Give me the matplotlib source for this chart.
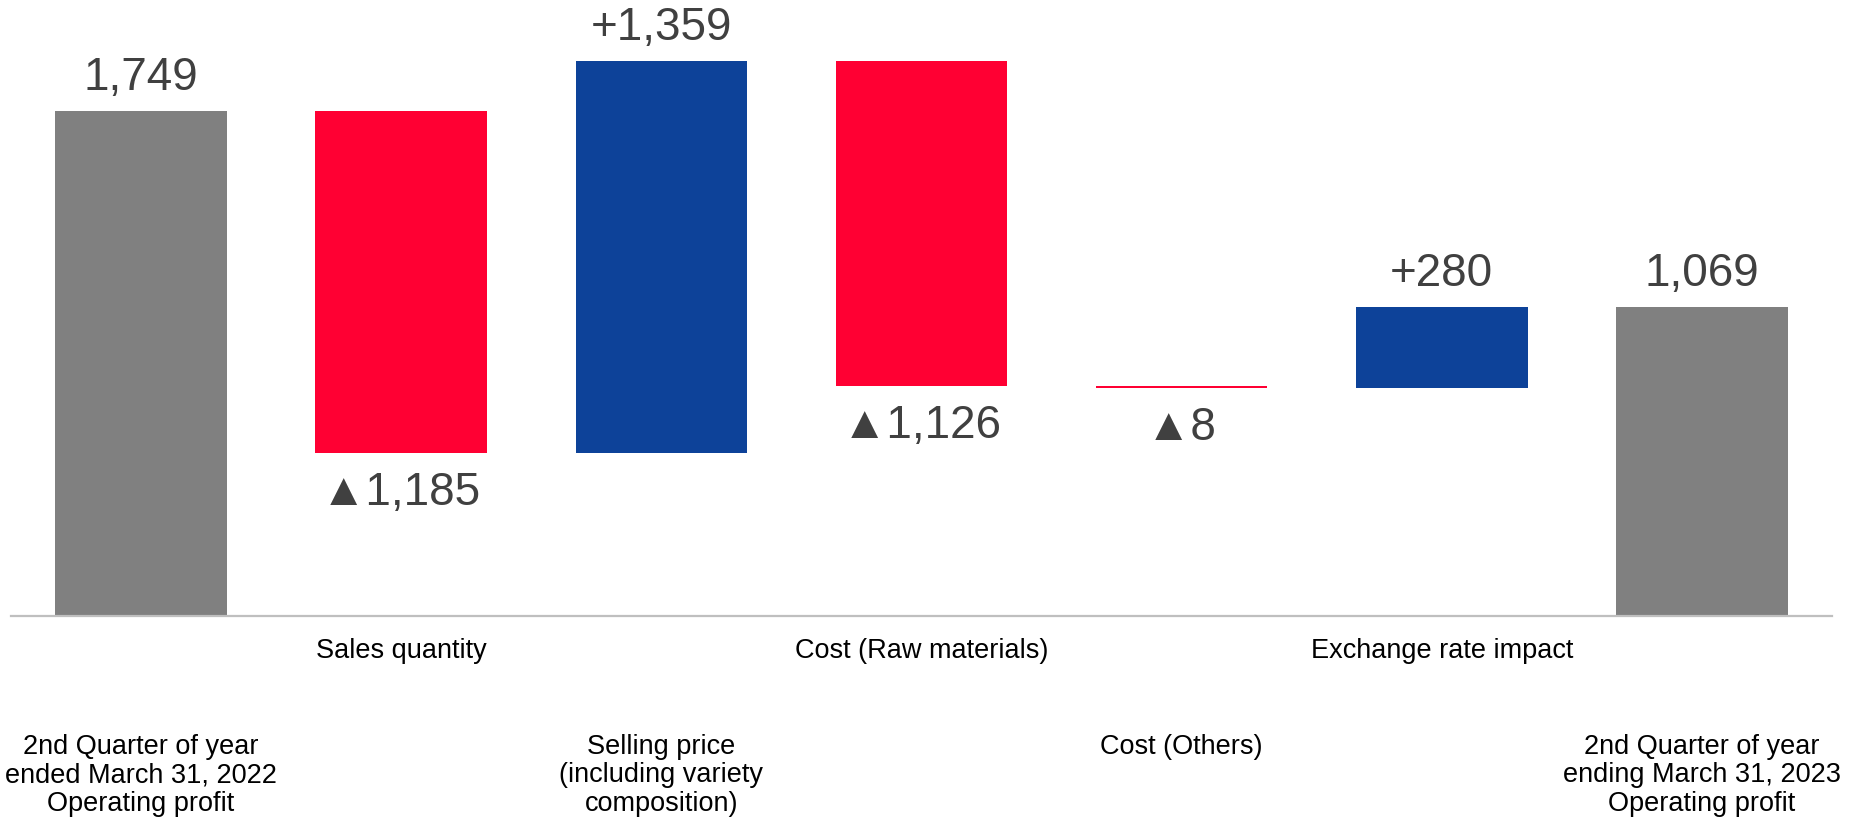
import numpy as np
import matplotlib.pyplot as plt
from matplotlib.transforms import blended_transform_factory

# Operating profit bridge, 2Q FY2022 -> 2Q FY2023
categories = [
    "2nd Quarter of year\nended March 31, 2022\nOperating profit",
    "Sales quantity",
    "Selling price\n(including variety\ncomposition)",
    "Cost (Raw materials)",
    "Cost (Others)",
    "Exchange rate impact",
    "2nd Quarter of year\nending March 31, 2023\nOperating profit",
]
start_total = 1749
deltas = [-1185, 1359, -1126, -8, 280]
end_total = 1069

GRAY = "#808080"
RED = "#FF0033"
BLUE = "#0D4299"
TEXT = "#404040"

# bottoms / heights of each floating bar
bottoms, heights, colors, labels = [0], [start_total], [GRAY], [f"{start_total:,}"]
level = start_total
for d in deltas:
    if d >= 0:
        bottoms.append(level)
        colors.append(BLUE)
        labels.append(f"+{d:,}")
    else:
        bottoms.append(level + d)
        colors.append(RED)
        labels.append(f"▲{-d:,}")
    heights.append(abs(d))
    level += d
bottoms.append(0)
heights.append(end_total)
colors.append(GRAY)
labels.append(f"{end_total:,}")

fig = plt.figure(figsize=(18.58, 8.21), dpi=100)
ax = fig.add_axes([11 / 1858, 205 / 821, 1821 / 1858, 616 / 821])

x = np.arange(len(categories))
ax.bar(x, heights, bottom=bottoms, width=0.66, color=colors, linewidth=0)

ax.set_xlim(-0.5, 6.5)
ax.set_ylim(0, 2133)
for s in ["top", "right", "left"]:
    ax.spines[s].set_visible(False)
ax.spines["bottom"].set_color("#BFBFBF")
ax.spines["bottom"].set_linewidth(1.6)
ax.set_xticks([])
ax.set_yticks([])

font = ["Liberation Sans", "DejaVu Sans"]

# value labels: above for totals and increases, below for decreases
for i in range(len(x)):
    if colors[i] == RED:
        ax.annotate(labels[i], (x[i], bottoms[i]), xytext=(0, -13),
                    textcoords="offset points", ha="center", va="top",
                    fontsize=33, color=TEXT, family=font)
    else:
        ax.annotate(labels[i], (x[i], bottoms[i] + heights[i]), xytext=(0, 8),
                    textcoords="offset points", ha="center", va="bottom",
                    fontsize=33, color=TEXT, family=font)

# category names in two staggered rows under the axis
trans = blended_transform_factory(ax.transData, fig.transFigure)
for i, name in enumerate(categories):
    y = 1 - 638 / 821 if i % 2 == 1 else 1 - 734 / 821
    ax.text(x[i], y, name, transform=trans, ha="center", va="top",
            fontsize=19.5, color="black", family=font, linespacing=1.12)

fig.savefig("out.png", dpi=100)
